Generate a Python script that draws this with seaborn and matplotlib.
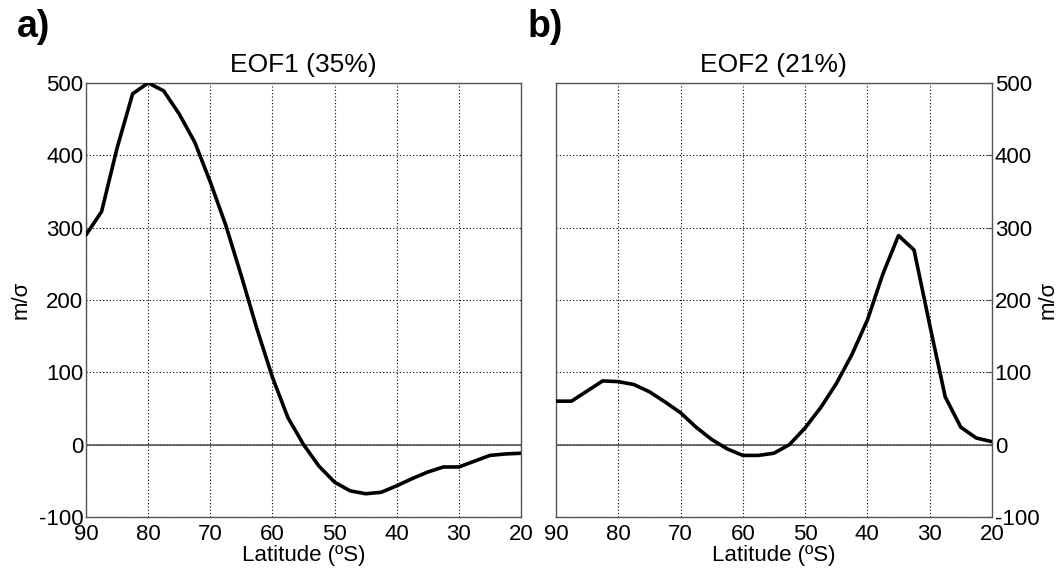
import matplotlib.pyplot as plt
import seaborn as sns
import pandas as pd

# latitude (degrees south), every 2.5 degrees
lat = [90, 87.5, 85, 82.5, 80, 77.5, 75, 72.5, 70, 67.5, 65, 62.5, 60, 57.5, 55,
       52.5, 50, 47.5, 45, 42.5, 40, 37.5, 35, 32.5, 30, 27.5, 25, 22.5, 20]

eof1 = [290, 322, 410, 485, 500, 489, 457, 418, 363, 303, 233, 160, 93, 37, 0,
        -30, -52, -64, -68, -66, -57, -47, -38, -31, -31, -23, -15, -13, -12]

eof2 = [60, 60, 74, 88, 87, 83, 73, 59, 44, 24, 7, -6, -15, -15, -12,
        0, 23, 51, 84, 124, 172, 236, 289, 269, 166, 66, 24, 9, 4]

titles = ['EOF1 (35%)', 'EOF2 (21%)']
xticks = [90, 80, 70, 60, 50, 40, 30, 20]
yticks = [-100, 0, 100, 200, 300, 400, 500]

sns.set_style('white')
plt.rcParams['font.family'] = ['Liberation Sans', 'DejaVu Sans']
plt.rcParams['axes.unicode_minus'] = False
plt.rcParams['text.color'] = 'black'
plt.rcParams['axes.labelcolor'] = 'black'
plt.rcParams['xtick.labelcolor'] = 'black'
plt.rcParams['ytick.labelcolor'] = 'black'

fig = plt.figure(figsize=(10.62, 5.68), dpi=100)
ax1 = fig.add_axes([0.081, 0.09, 0.4096, 0.764])
ax2 = fig.add_axes([0.5235, 0.09, 0.4105, 0.764])

for ax, vals, title in zip([ax1, ax2], [eof1, eof2], titles):
    df = pd.DataFrame({'lat': lat, 'val': vals})
    ax.axhline(0, color='#555555', lw=1.2, zorder=1)
    sns.lineplot(data=df, x='lat', y='val', ax=ax, color='black', lw=2.6, zorder=3)
    ax.set_xlim(90, 20)
    ax.set_ylim(-100, 500)
    ax.set_xticks(xticks)
    ax.set_yticks(yticks)
    ax.grid(True, color='black', linestyle=(0, (1, 2)), lw=0.8)
    ax.set_axisbelow(True)
    for s in ax.spines.values():
        s.set_color('#555555')
        s.set_linewidth(1.0)
    ax.tick_params(direction='in', length=4, color='#555555', labelsize=16, pad=2)
    ax.tick_params(axis='x', pad=5)
    ax.set_xlabel('Latitude (ºS)', fontsize=16, labelpad=0)
    ax.set_title(title, fontsize=19, pad=8)

ax1.set_ylabel('m/σ', fontsize=16, va='center')
ax1.yaxis.set_label_coords(-0.15, 0.5)
ax2.yaxis.tick_right()
ax2.yaxis.set_label_position('right')
ax2.tick_params(axis='y', left=False, right=True)
ax2.set_ylabel('m/σ', fontsize=16, rotation=90, va='center')
ax2.yaxis.set_label_coords(1.128, 0.5)

fig.text(0.016, 0.985, 'a)', fontsize=27, fontweight='bold', va='top')
fig.text(0.497, 0.985, 'b)', fontsize=27, fontweight='bold', va='top')

plt.savefig('out.png', dpi=100)
plt.close()
